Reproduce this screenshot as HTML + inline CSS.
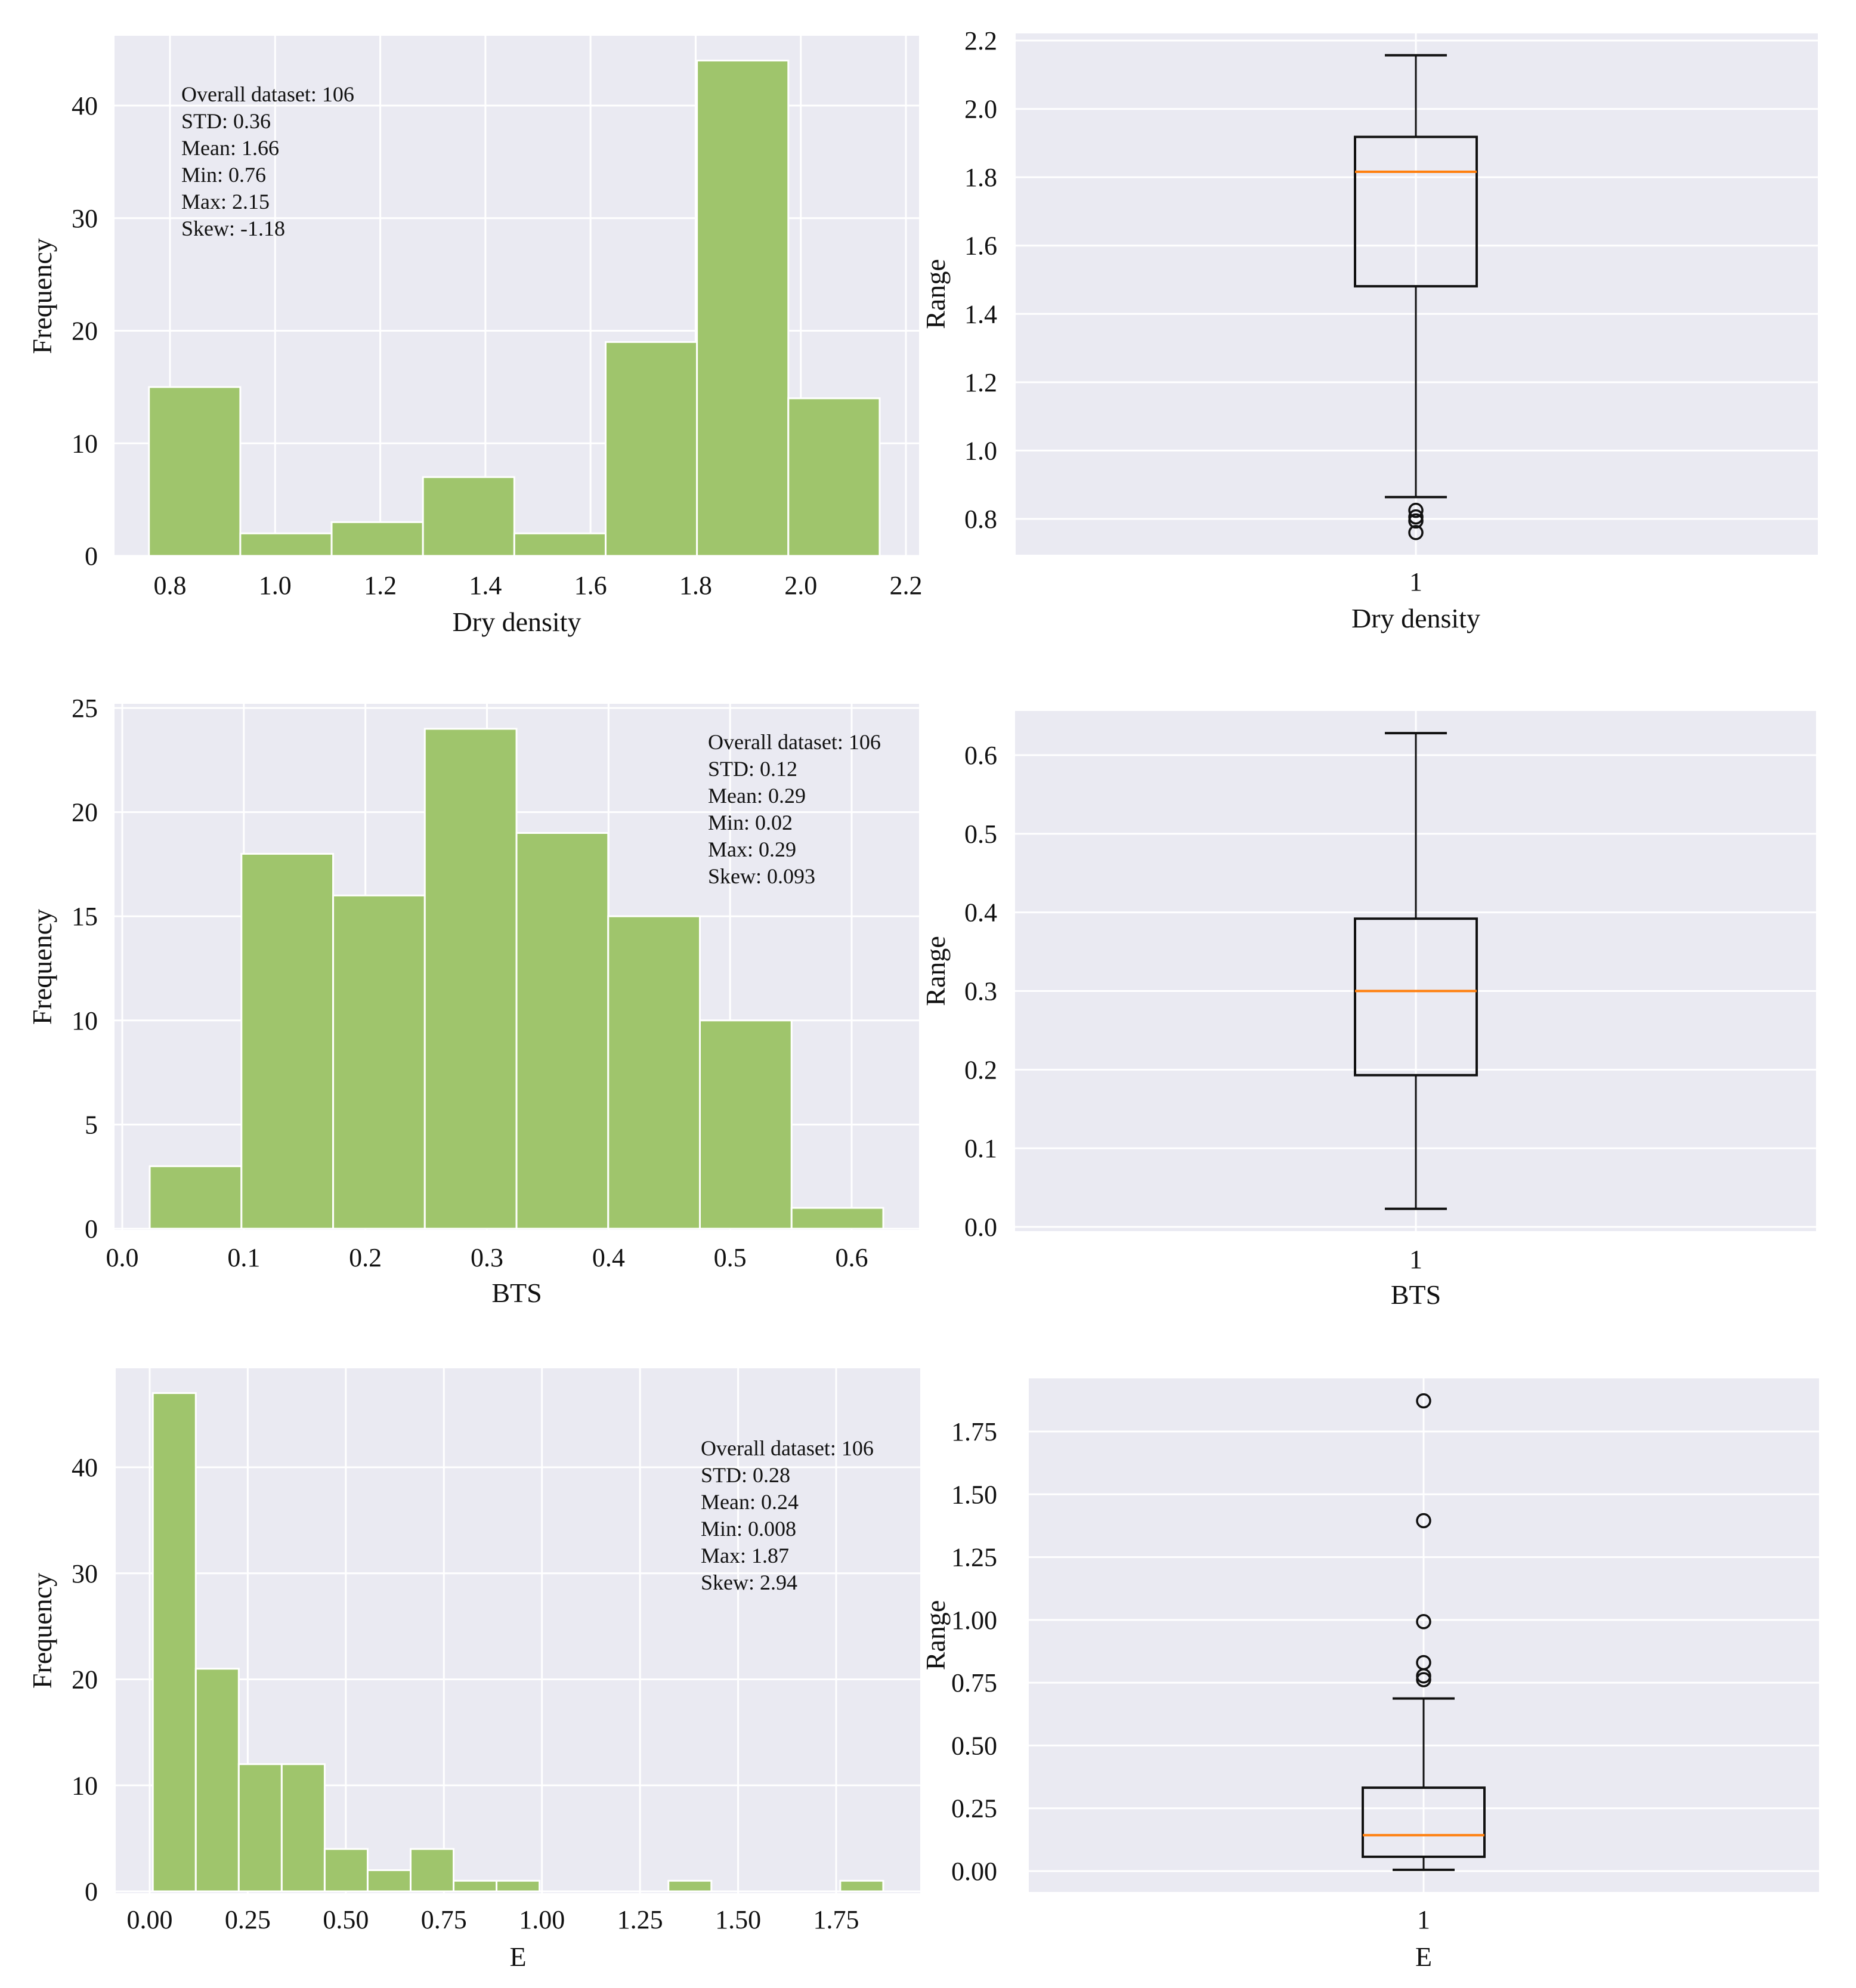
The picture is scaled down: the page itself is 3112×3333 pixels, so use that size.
<!DOCTYPE html>
<html><head><meta charset="utf-8"><style>
html,body{margin:0;padding:0;background:#fff;}
svg text{font-family:"Liberation Serif",serif;fill:#111;}
</style></head><body>
<svg id="fig" width="3112" height="3328" xmlns="http://www.w3.org/2000/svg"></svg>
<script>
// ---- data ----
const h1Edges0 = 0.76, h1Edges1 = 2.15;
const h1Counts = [15,2,3,7,2,19,44,14];
const h1XTicks = ["0.8","1.0","1.2","1.4","1.6","1.8","2.0","2.2"];
const h1YTicks = [0,10,20,30,40];
const h1Stats = ["Overall dataset: 106","STD: 0.36","Mean: 1.66","Min: 0.76","Max: 2.15","Skew: -1.18"];

const h2Edges0 = 0.0226, h2Edges1 = 0.626;
const h2Counts = [3,18,16,24,19,15,10,1];
const h2XTicks = ["0.0","0.1","0.2","0.3","0.4","0.5","0.6"];
const h2YTicks = [0,5,10,15,20,25];
const h2Stats = ["Overall dataset: 106","STD: 0.12","Mean: 0.29","Min: 0.02","Max: 0.29","Skew: 0.093"];

const h3Edges0 = 0.008, h3Edges1 = 1.87;
const h3Counts = [47,21,12,12,4,2,4,1,1,0,0,0,1,0,0,0,1];
const h3XTicks = ["0.00","0.25","0.50","0.75","1.00","1.25","1.50","1.75"];
const h3YTicks = [0,10,20,30,40];
const h3Stats = ["Overall dataset: 106","STD: 0.28","Mean: 0.24","Min: 0.008","Max: 1.87","Skew: 2.94"];

const b1Stats = [0.864,1.481,1.816,1.918,2.157]; // whislo,q1,med,q3,whishi
const b1Outliers = [0.825,0.806,0.794,0.76];
const b1YTicks = ["0.8","1.0","1.2","1.4","1.6","1.8","2.0","2.2"];

const b2Stats = [0.023,0.193,0.30,0.392,0.628];
const b2Outliers = [];
const b2YTicks = ["0.0","0.1","0.2","0.3","0.4","0.5","0.6"];

const b3Stats = [0.005,0.057,0.143,0.332,0.687];
const b3Outliers = [1.872,1.395,0.993,0.83,0.777,0.762];
const b3YTicks = ["0.00","0.25","0.50","0.75","1.00","1.25","1.50","1.75"];

// ---- drawing ----
const NS="http://www.w3.org/2000/svg";
const svg=document.getElementById('fig');
function mk(tag,attrs,parent){const e=document.createElementNS(NS,tag);for(const k in attrs)e.setAttribute(k,attrs[k]);(parent||svg).appendChild(e);return e;}
function txt(s,x,y,size,anchor,parent){const t=mk('text',{x:x,y:y,'font-size':size,'text-anchor':anchor||'middle'},parent);t.textContent=s;return t;}
function lin(v0,p0,v1,p1){return v=>p0+(v-v0)*(p1-p0)/(v1-v0);}

function hist(name,box,xs,ys,edges0,edges1,counts,xticks,yticks,stats,statPos,xlabel,labY){
  const g=mk('g',{});
  
  
  const bg=mk('rect',{x:box[0],y:box[1],width:box[2]-box[0],height:box[3]-box[1],fill:'#eaeaf2'},g);
  
  
  xticks.forEach(t=>{const x=xs(parseFloat(t));
    mk('line',{x1:x,x2:x,y1:box[1],y2:box[3],stroke:'#fff','stroke-width':3},g);
    const l=txt(t,x,labY[0],44,'middle',g);
    
    });
  yticks.forEach(t=>{const y=ys(t);
    mk('line',{x1:box[0],x2:box[2],y1:y,y2:y,stroke:'#fff','stroke-width':3},g);
    const l=txt(String(t),164,y+15,44,'end',g);
    
    });
  const w=(edges1-edges0)/counts.length;
  counts.forEach((c,i)=>{ if(c<=0) return;
    const x0=xs(edges0+i*w), x1=xs(edges0+(i+1)*w), y=ys(c);
    const r=mk('rect',{x:x0,y:y,width:x1-x0,height:ys(0)-y,fill:'#9fc56c',stroke:'#fff','stroke-width':3},g);
    
    });
  stats.forEach((s,i)=>{const l=txt(s,statPos[0],statPos[1]+i*45,36,'start',g);
    
    });
  const xl=txt(xlabel,(box[0]+box[2])/2,labY[1],46,'middle',g);
  
  
  const cy=(box[1]+box[3])/2;
  const yl=txt('Frequency',0,0,46,'middle',g);
  yl.setAttribute('transform','translate(86,'+cy+') rotate(-90)');
  
  
}

function boxplot(name,box,ys,cx,st,outs,yticks,xlabel,labY){
  const g=mk('g',{});
  
  
  const bg=mk('rect',{x:box[0],y:box[1],width:box[2]-box[0],height:box[3]-box[1],fill:'#eaeaf2'},g);
  
  
  yticks.forEach(t=>{const y=ys(parseFloat(t));
    mk('line',{x1:box[0],x2:box[2],y1:y,y2:y,stroke:'#fff','stroke-width':3},g);
    const l=txt(t,1672,y+15,44,'end',g);
    
    });
  mk('line',{x1:cx,x2:cx,y1:box[1],y2:box[3],stroke:'#fff','stroke-width':3},g);
  const hw=102, cw=52;
  mk('line',{x1:cx,x2:cx,y1:ys(st[4]),y2:ys(st[3]),stroke:'#111','stroke-width':3},g);
  mk('line',{x1:cx,x2:cx,y1:ys(st[1]),y2:ys(st[0]),stroke:'#111','stroke-width':3},g);
  mk('line',{x1:cx-cw,x2:cx+cw,y1:ys(st[4]),y2:ys(st[4]),stroke:'#111','stroke-width':4},g);
  mk('line',{x1:cx-cw,x2:cx+cw,y1:ys(st[0]),y2:ys(st[0]),stroke:'#111','stroke-width':4},g);
  const r=mk('rect',{x:cx-hw,y:ys(st[3]),width:2*hw,height:ys(st[1])-ys(st[3]),fill:'none',stroke:'#111','stroke-width':4},g);
  
  
  const m=mk('line',{x1:cx-hw,x2:cx+hw,y1:ys(st[2]),y2:ys(st[2]),stroke:'#ff7f0e','stroke-width':4},g);
  
  
  outs.forEach(v=>{const c=mk('circle',{cx:cx,cy:ys(v),r:11,fill:'none',stroke:'#111','stroke-width':3.5},g);
    
    });
  const t1=txt('1',cx,labY[0],44,'middle',g);
  
  
  const xl=txt(xlabel,cx,labY[1],46,'middle',g);
  
  
  const cy=(box[1]+box[3])/2;
  const yl=txt('Range',0,0,46,'middle',g);
  yl.setAttribute('transform','translate(1584,'+cy+') rotate(-90)');
  
  
}

hist('histogram-dry-density',[192,60,1541,933],lin(0.8,285,2.2,1519),lin(0,932,40,177),
  h1Edges0,h1Edges1,h1Counts,h1XTicks,h1YTicks,h1Stats,[304,170],'Dry density',[996,1058]);
hist('histogram-bts',[192,1180,1541,2062],lin(0,205,0.6,1428),lin(0,2060,25,1187),
  h2Edges0,h2Edges1,h2Counts,h2XTicks,h2YTicks,h2Stats,[1187,1256],'BTS',[2123,2183]);
hist('histogram-e',[194,2294,1543,3174],lin(0,251,1.75,1402),lin(0,3171,40,2460),
  h3Edges0,h3Edges1,h3Counts,h3XTicks,h3YTicks,h3Stats,[1175,2440],'E',[3233,3296]);

boxplot('boxplot-dry-density',[1703,56,3048,930],lin(0.8,870,2.2,68),2374,b1Stats,b1Outliers,b1YTicks,'Dry density',[990,1052]);
boxplot('boxplot-bts',[1702,1192,3045,2064],lin(0,2057,0.6,1266),2374,b2Stats,b2Outliers,b2YTicks,'BTS',[2126,2186]);
boxplot('boxplot-e',[1725,2311,3050,3172],lin(0,3137,1.75,2400),2387,b3Stats,b3Outliers,b3YTicks,'E',[3233,3296]);
</script>
</body></html>
